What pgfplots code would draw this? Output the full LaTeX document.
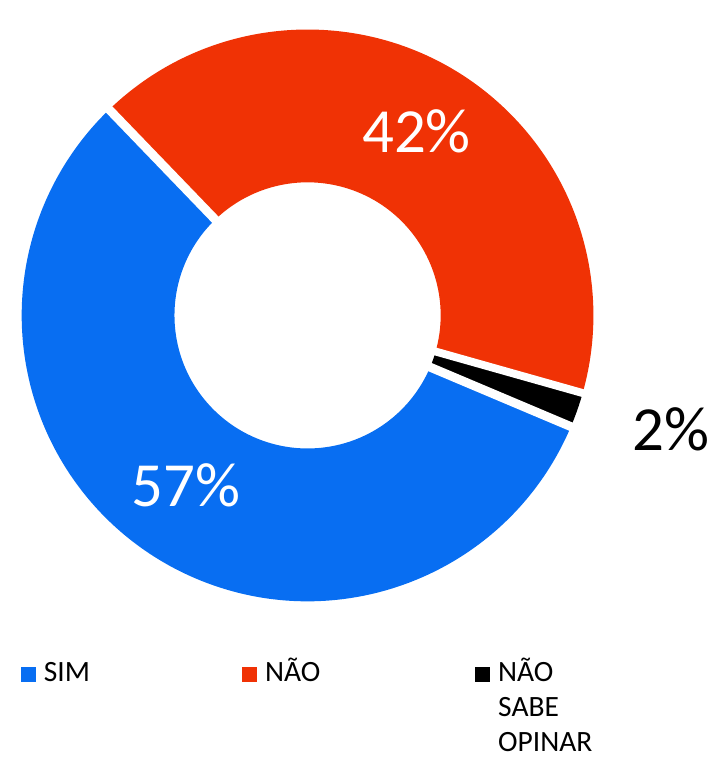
\documentclass[border=0pt]{standalone}
\usepackage{fontspec}
\setmainfont{Carlito}
\usepackage{pgfplots}
\usepackage{pgfplotstable}
\pgfplotsset{compat=1.18}
\definecolor{cSim}{RGB}{8,110,242}
\definecolor{cNao}{RGB}{240,50,5}
\definecolor{cNs}{RGB}{0,0,0}
\pgfplotstableread{
label value
SIM 57
NAO 42
NSO 2
}\donutdata
\begin{document}
\begin{tikzpicture}
\pgfplotstablegetelem{0}{value}\of\donutdata \let\vA\pgfplotsretval
\pgfplotstablegetelem{1}{value}\of\donutdata \let\vB\pgfplotsretval
\pgfplotstablegetelem{2}{value}\of\donutdata \let\vC\pgfplotsretval
\pgfmathsetmacro\tot{\vA+\vB+\vC}
\pgfmathsetmacro\aO{-22.9}
\pgfmathsetmacro\aA{\aO-360*(\vA/\tot)}
\pgfmathsetmacro\aB{\aA-360*(\vB/\tot)}
\pgfmathsetmacro\aC{\aB-360*(\vC/\tot)}
\begin{axis}[x=1bp,y=1bp,xmin=0,xmax=726,ymin=0,ymax=758,
  hide axis,clip=false,
  legend columns=3,
  legend style={at={(axis cs:21,101.5)}, anchor=north west, draw=none, fill=none,
    inner sep=0pt, font=\fontsize{30}{35.6}\selectfont,
    cells={anchor=base west}, nodes={inner sep=0pt, text depth=0pt},
    /tikz/every odd column/.append style={column sep=9bp},
    /tikz/every even column/.append style={column sep=0bp}},
]
\path (axis cs:0,0) rectangle (axis cs:726,758);
\addlegendimage{legend image code/.code={\fill[cSim] (0bp,0.7bp) rectangle (14bp,14.7bp);}}
\addlegendentry{\makebox[201bp][l]{SIM}}
\addlegendimage{legend image code/.code={\fill[cNao] (0bp,0.7bp) rectangle (14bp,14.7bp);}}
\addlegendentry{\makebox[213bp][l]{NÃO}}
\addlegendimage{legend image code/.code={\fill[cNs] (0bp,0.7bp) rectangle (14bp,14.7bp);}}
\addlegendentry{\parbox[t]{140bp}{NÃO\\SABE\\OPINAR}}
% donut slices
\fill[cSim] ([shift={(\aO:290bp)}]axis cs:312,449) arc[start angle=\aO,end angle=\aA,radius=290bp]
  -- ([shift={(\aA:135bp)}]axis cs:312,449) arc[start angle=\aA,end angle=\aO,radius=135bp] -- cycle;
\fill[cNao] ([shift={(\aA:290bp)}]axis cs:312,449) arc[start angle=\aA,end angle=\aB,radius=290bp]
  -- ([shift={(\aB:135bp)}]axis cs:312,449) arc[start angle=\aB,end angle=\aA,radius=135bp] -- cycle;
\fill[cNs] ([shift={(\aB:290bp)}]axis cs:312,449) arc[start angle=\aB,end angle=\aC,radius=290bp]
  -- ([shift={(\aC:135bp)}]axis cs:312,449) arc[start angle=\aC,end angle=\aB,radius=135bp] -- cycle;
% white separators
\draw[white, line width=9bp] ([shift={(\aO:120bp)}]axis cs:312,449) -- ([shift={(\aO:300bp)}]axis cs:312,449);
\draw[white, line width=9bp] ([shift={(\aA:120bp)}]axis cs:312,449) -- ([shift={(\aA:300bp)}]axis cs:312,449);
\draw[white, line width=8bp] ([shift={(\aB:120bp)}]axis cs:312,449) -- ([shift={(\aB:300bp)}]axis cs:312,449);
% labels
\node[text=white, anchor=base, inner sep=0pt, font=\fontsize{64}{72}\selectfont] at (axis cs:422.5,614.7) {42\%};
\node[text=white, anchor=base, inner sep=0pt, font=\fontsize{64}{72}\selectfont] at (axis cs:189,254.7) {57\%};
\node[text=black, anchor=base, inner sep=0pt, font=\fontsize{64}{72}\selectfont] at (axis cs:681,311.7) {2\%};
\end{axis}
\end{tikzpicture}
\end{document}
